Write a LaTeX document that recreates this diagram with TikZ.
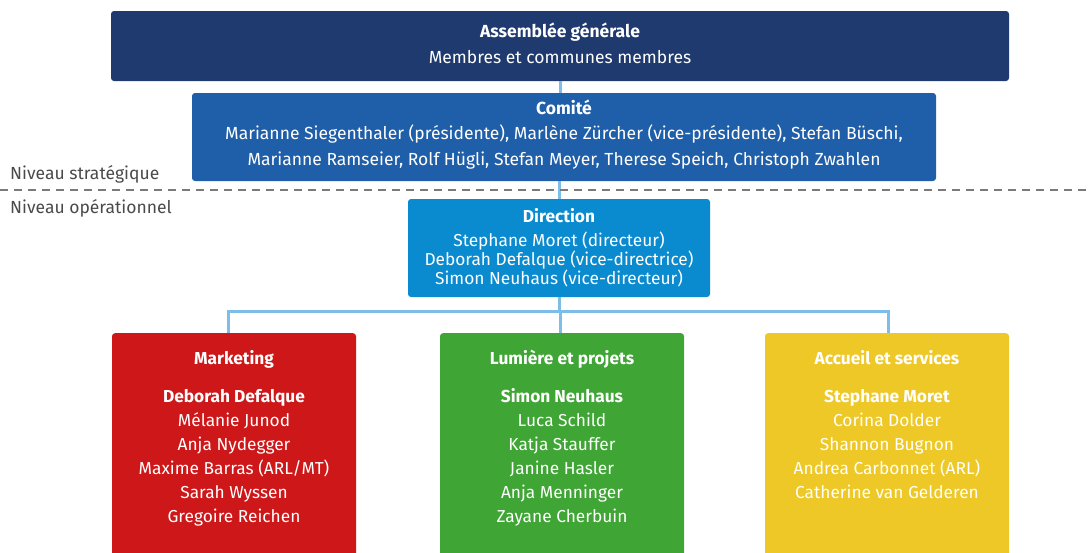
\documentclass[tikz,border=0pt]{standalone}
\usepackage{fontspec}
\setmainfont{Fira Sans}
\usetikzlibrary{positioning}

\definecolor{navy}{HTML}{1F3A6F}
\definecolor{comiteblue}{HTML}{1F5EA8}
\definecolor{dirblue}{HTML}{0A8BCF}
\definecolor{linkblue}{HTML}{7DBDE9}
\definecolor{mkred}{HTML}{CD1719}
\definecolor{lpgreen}{HTML}{3FA535}
\definecolor{asyellow}{HTML}{EEC826}
\definecolor{levelgray}{HTML}{4A4A4A}
\definecolor{dashgray}{HTML}{7A7A7A}

\begin{document}
\begin{tikzpicture}[x=1pt,y=-1pt,
		unit/.style={rectangle, rounded corners=3pt, text=white, align=center, inner sep=0pt,
			font=\fontsize{17.5}{25}\selectfont},
		dept/.style={rectangle, rounded corners=3pt, minimum width=244pt, minimum height=240pt, anchor=north, inner sep=0pt},
		deptlist/.style={text=white, align=center, anchor=north, inner sep=0pt, font=\fontsize{17.3}{24}\selectfont},
		link/.style={draw=linkblue, line width=3pt},
		level/.style={anchor=west, text=levelgray, inner sep=0pt, font=\fontsize{17.5}{18}\selectfont}]

		\useasboundingbox (0,0) rectangle (1089,552);
		\clip (0,0) rectangle (1089,552);

		%% Nodes
		\begin{scope}
			\node (assemblee) at (560, 46) [unit, fill=navy, minimum width=898pt, minimum height=70pt, text depth=6pt,
				font=\fontsize{17.5}{26}\selectfont]
				{\textbf{Assemblée générale}\\Membres et communes membres};
			\node (comite) at (564, 137) [unit, fill=comiteblue, minimum width=744pt, minimum height=88pt, text depth=9pt,
				font=\fontsize{17.5}{26}\selectfont]
				{\textbf{Comité}\\[-1pt]Marianne Siegenthaler (présidente), Marlène Zürcher (vice-présidente), Stefan Büschi,\\Marianne Ramseier, Rolf Hügli, Stefan Meyer, Therese Speich, Christoph Zwahlen};
			\node (direction) at (559, 248) [unit, fill=dirblue, minimum width=302pt, minimum height=98pt,
				font=\fontsize{17.3}{19}\selectfont]
				{\textbf{Direction}\\[5pt]Stephane Moret (directeur)\\Deborah Defalque (vice-directrice)\\Simon Neuhaus (vice-directeur)};
		\end{scope}

		% Levels
		\begin{scope}
			\coordinate (split_west) at (0, 190);
			\coordinate (split_east) at (1089, 190);
			\node (strategic) at (10, 174) [level] {Niveau stratégique};
			\node (operational) at (10, 208) [level] {Niveau opérationnel};
		\end{scope}

		% Departments
		\begin{scope}
			\node (marketing) at (234, 333) [dept, fill=mkred] {};
			\node (marketing_list) [deptlist, below = 17pt of marketing.north]
				{\textbf{Marketing}\\[14pt]\textbf{Deborah Defalque}\\Mélanie Junod\\Anja Nydegger\\Maxime Barras (ARL/MT)\\Sarah Wyssen\\Gregoire Reichen};

			\node (lumiere) at (562, 333) [dept, fill=lpgreen] {};
			\node (lumiere_list) [deptlist, below = 17pt of lumiere.north]
				{\textbf{Lumière et projets}\\[14pt]\textbf{Simon Neuhaus}\\Luca Schild\\Katja Stauffer\\Janine Hasler\\Anja Menninger\\Zayane Cherbuin};

			\node (accueil) at (887, 333) [dept, fill=asyellow] {};
			\node (accueil_list) [deptlist, below = 17pt of accueil.north]
				{\textbf{Accueil et services}\\[14pt]\textbf{Stephane Moret}\\Corina Dolder\\Shannon Bugnon\\Andrea Carbonnet (ARL)\\Catherine van Gelderen};
		\end{scope}

		%% Edges
		\coordinate (bus) at (560, 311);
		\draw[link] (assemblee.south) -- (assemblee.south |- comite.north);
		\draw[link] (direction.north |- comite.south) -- (direction.north);
		\draw[dashgray, line width=1.2pt, dash pattern=on 8pt off 6pt] (split_west) -- (split_east);
		\draw[link] (direction.south) -- (direction.south |- bus);
		\draw[link] (bus) -| ([xshift=-6pt]marketing.north);
		\draw[link] (bus) -- ([xshift=-2pt]lumiere.north);
		\draw[link] (bus) -| ([xshift=1pt]accueil.north);
	\end{tikzpicture}
\end{document}
